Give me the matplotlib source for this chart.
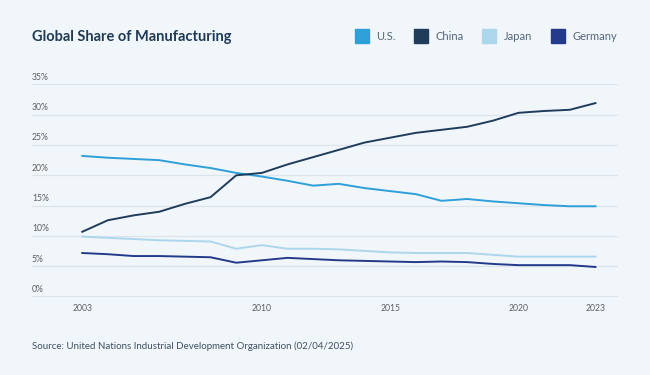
import matplotlib
matplotlib.use("Agg")
import matplotlib.pyplot as plt
from matplotlib.lines import Line2D
from matplotlib.ticker import FixedLocator
import matplotlib.transforms as mtransforms

plt.rcParams['font.family'] = ['Lato', 'DejaVu Sans']

# Data (share of global manufacturing, %)
years = list(range(2003, 2024))
us = [23.2, 22.9, 22.7, 22.5, 21.8, 21.2, 20.4, 19.8, 19.1, 18.3, 18.6,
      17.9, 17.4, 16.9, 15.8, 16.1, 15.7, 15.4, 15.1, 14.9, 14.9]
china = [10.7, 12.6, 13.4, 14.0, 15.3, 16.4, 20.0, 20.4, 21.8, 23.0, 24.2,
         25.4, 26.2, 27.0, 27.5, 28.0, 29.0, 30.3, 30.6, 30.8, 31.9]
japan = [9.9, 9.7, 9.5, 9.3, 9.2, 9.1, 7.9, 8.5, 7.9, 7.9, 7.8,
         7.55, 7.3, 7.2, 7.2, 7.2, 6.9, 6.6, 6.6, 6.6, 6.6]
germany = [7.2, 7.0, 6.7, 6.7, 6.6, 6.5, 5.6, 6.0, 6.4, 6.2, 6.0,
           5.9, 5.8, 5.7, 5.8, 5.7, 5.4, 5.2, 5.2, 5.2, 4.9]

series = ["U.S.", "China", "Japan", "Germany"]
colors = ["#2f9fd8", "#1f3d5a", "#acd6ec", "#233a8b"]
x_ticks = [2003, 2010, 2015, 2020, 2023]
y_ticks = [0, 5, 10, 15, 20, 25, 30, 35]

bg = "#f1f6fa"
fig = plt.figure(figsize=(6.5, 3.75), dpi=100, facecolor=bg)
ax = fig.add_axes([0.0492, 0.2088, 0.9008, 0.5664], facecolor=bg)

for vals, c in zip([us, china, japan, germany], colors):
    ax.plot(years, vals, color=c, lw=1.4, solid_joinstyle="round")

ax.set_xlim(2001.04, 2023.86)
ax.set_ylim(0, 35)
ax.yaxis.set_major_locator(FixedLocator(y_ticks))
ax.set_yticklabels([f"{v}%" for v in y_ticks])
ax.set_xticks(x_ticks)
ax.set_xticklabels([str(y) for y in x_ticks])

for s in ax.spines.values():
    s.set_visible(False)
ax.grid(axis="y", color="#dde5ec", lw=0.9)
ax.axhline(0, color="#d7dfe7", lw=1.8)
ax.tick_params(length=0, labelsize=6.2, labelcolor="#5f5f5f")
ax.tick_params(axis="x", pad=5)
ax.tick_params(axis="y", pad=0)

offset = mtransforms.ScaledTranslation(0, 2 / 72, fig.dpi_scale_trans)
for lbl in ax.get_yticklabels():
    lbl.set_ha("left")
    lbl.set_va("bottom")
    lbl.set_transform(lbl.get_transform() + offset)

fig.text(0.049, 0.902, "Global Share of Manufacturing", fontsize=10.5,
         fontweight="bold", color="#1f3a55", va="center")

handles = [Line2D([], [], marker="s", ls="none", markersize=10,
                  markerfacecolor=c, markeredgecolor=c) for c in colors]
fig.legend(handles, series, loc="center right", bbox_to_anchor=(0.965, 0.902),
           ncol=4, frameon=False, fontsize=8, labelcolor="#55657a",
           handletextpad=0.85, columnspacing=1.75, handlelength=1.0)

fig.text(0.049, 0.077, "Source: United Nations Industrial Development Organization (02/04/2025)",
         fontsize=7.0, color="#3f4f5f", va="center")

fig.savefig("out.png", dpi=100, facecolor=bg)
